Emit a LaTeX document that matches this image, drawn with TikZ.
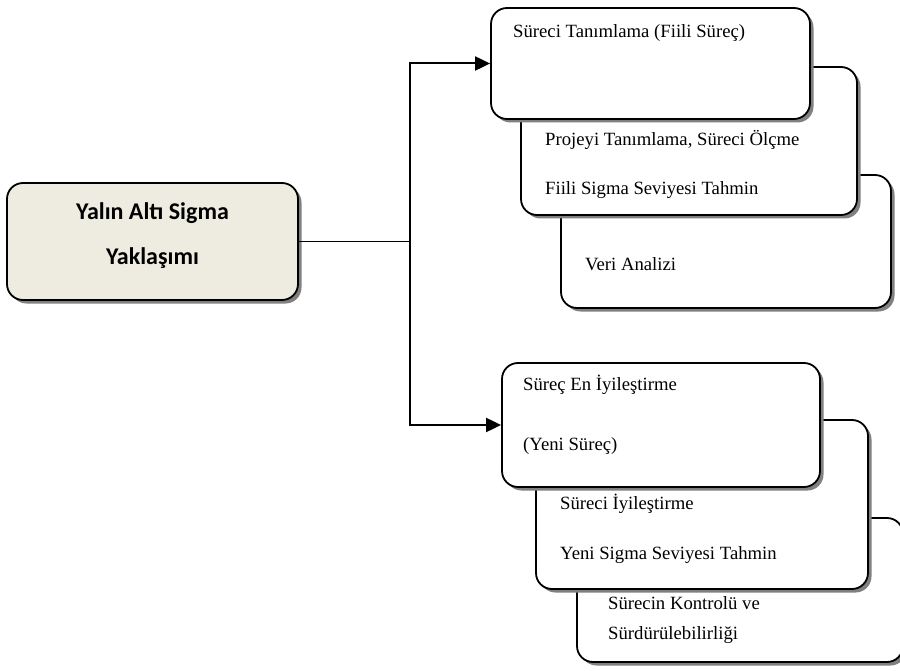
\documentclass[tikz,border=0pt]{standalone}
\usepackage{fontspec}
\setmainfont{Liberation Serif}
\newfontfamily\calibri{Carlito}
\usetikzlibrary{arrows.meta,shadows}
\definecolor{beige}{RGB}{238,236,225}
\definecolor{shadowgray}{RGB}{128,128,128}
\tikzset{
  box/.style={draw=black, line width=1.8pt, rounded corners=16pt, fill=white,
    drop shadow={shadow xshift=3.5pt, shadow yshift=-3.5pt, fill=shadowgray, opacity=1},
    inner sep=0pt},
  lbl/.style={anchor=mid west, inner sep=0pt, font=\fontsize{18.7}{22}\selectfont},
  conn/.style={line width=2pt},
  arr/.style={conn, -{Triangle[length=15pt,width=14pt]}}
}
\begin{document}
\begin{tikzpicture}[x=1pt,y=-1pt]
\clip (0,0) rectangle (900,671);
\fill[white] (0,0) rectangle (900,671);
% main box
\node[box, fill=beige, minimum width=291pt, minimum height=117pt] (L) at (152.5,241.5) {};
\node[inner sep=0pt, font=\calibri\bfseries\fontsize{24}{28}\selectfont] (L1) at (152.5,213) {Yalın Altı Sigma};
\node[inner sep=0pt, font=\calibri\bfseries\fontsize{24}{28}\selectfont] (L2) at (152.5,258) {Yaklaşımı};
% top stack
\node[box, minimum width=330pt, minimum height=133pt] (T3) at (726,241.5) {};
\node[box, minimum width=336pt, minimum height=148pt] (T2) at (689,141) {};
\node[box, minimum width=319pt, minimum height=111pt] (T1) at (650.5,63.5) {};
\node[lbl] (t1a) at (513,35) {Süreci Tanımlama (Fiili Süreç)};
\node[lbl] (t2a) at (545,143) {Projeyi Tanımlama, Süreci Ölçme};
\node[lbl] (t2b) at (545,192) {Fiili Sigma Seviyesi Tahmin};
\node[lbl] (t3a) at (585,268) {Veri Analizi};
% bottom stack
\node[box, minimum width=326pt, minimum height=144pt] (B3) at (740,590) {};
\node[box, minimum width=332pt, minimum height=169pt] (B2) at (702,504.5) {};
\node[box, minimum width=318pt, minimum height=124pt] (B1) at (661,425) {};
\node[lbl] (b1a) at (523,388) {Süreç En İyileştirme};
\node[lbl] (b1b) at (523,448) {(Yeni Süreç)};
\node[lbl] (b2a) at (560,507) {Süreci İyileştirme};
\node[lbl] (b2b) at (560,557) {Yeni Sigma Seviyesi Tahmin};
\node[lbl] (b3a) at (608,607) {Sürecin Kontrolü ve};
\node[lbl] (b3b) at (608,637) {Sürdürülebilirliği};
% connectors
\coordinate (jn) at (410,241.5);
\draw[conn, line width=1.6pt] (L.east) -- (jn);
\draw[arr] (jn) |- (T1.west);
\draw[arr] (jn) |- (B1.west);
\end{tikzpicture}
\end{document}
